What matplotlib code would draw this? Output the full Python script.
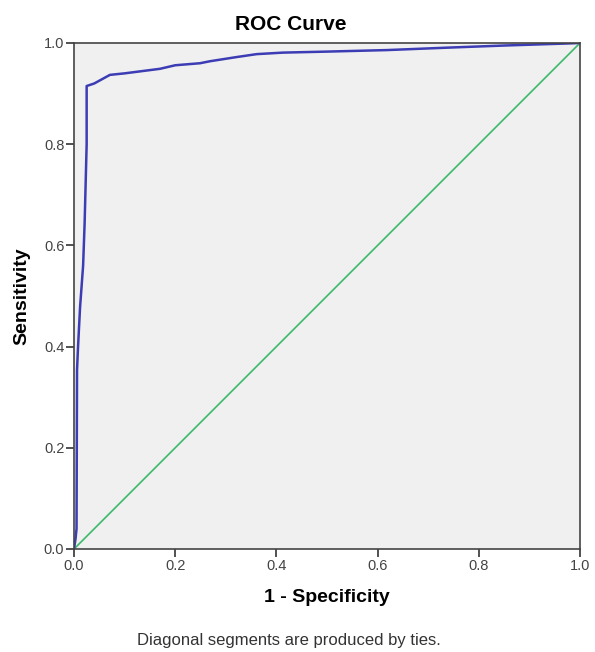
import matplotlib
matplotlib.use("Agg")
import matplotlib.pyplot as plt

# ROC curve points
fpr = [0.0, 0.003, 0.005, 0.006, 0.008, 0.012, 0.018, 0.021, 0.025, 0.025,
       0.04, 0.071, 0.1, 0.17, 0.2, 0.249, 0.269, 0.32, 0.361, 0.413, 0.5,
       0.618, 0.743, 0.85, 0.974, 1.0]
tpr = [0.0, 0.02, 0.04, 0.354, 0.40, 0.478, 0.56, 0.644, 0.80, 0.915,
       0.92, 0.937, 0.94, 0.949, 0.956, 0.96, 0.964, 0.972, 0.978, 0.981, 0.983,
       0.986, 0.991, 0.995, 0.999, 1.0]
ref_x = [0.0, 1.0]
ref_y = [0.0, 1.0]
ticks = [0.0, 0.2, 0.4, 0.6, 0.8, 1.0]
tick_labels = ["0.0", "0.2", "0.4", "0.6", "0.8", "1.0"]

plt.rcParams['font.family'] = ['Liberation Sans', 'DejaVu Sans']

fig = plt.figure(figsize=(5.95, 6.52), dpi=100)
ax = fig.add_axes([74 / 595, 103 / 652, 506 / 595, 506 / 652])
ax.set_facecolor("#f0f0f0")

ax.plot(ref_x, ref_y, color="#3cb96a", linewidth=1.2)
ax.plot(fpr, tpr, color="#3c3cb4", linewidth=1.8)

ax.set_xlim(0, 1)
ax.set_ylim(0, 1)
ax.set_xticks(ticks)
ax.set_xticklabels(tick_labels)
ax.set_yticks(ticks)
ax.set_yticklabels(tick_labels)
ax.tick_params(direction="out", length=6, width=1.2, color="#333333",
               labelsize=10.5, labelcolor="#444444", pad=1)
for s in ax.spines.values():
    s.set_color("#444444")
    s.set_linewidth(1.2)

fig.text(291 / 595, 1 - 24 / 652, "ROC Curve", ha="center", va="center",
         fontsize=15, fontweight="bold")
ax.set_xlabel("1 - Specificity", fontsize=14, fontweight="bold", labelpad=12)
ax.set_ylabel("Sensitivity", fontsize=14, fontweight="bold", labelpad=10)

fig.text(289 / 595, 1 - 640 / 652, "Diagonal segments are produced by ties.",
         ha="center", va="center", fontsize=12, color="#333333")

fig.savefig("out.png", dpi=100)
